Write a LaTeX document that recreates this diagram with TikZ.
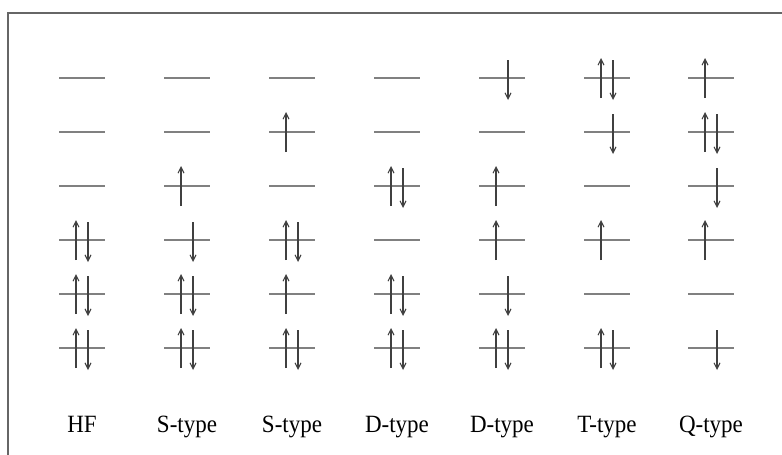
\documentclass[tikz,border=0pt]{standalone}
\usepackage{fontspec}
\setmainfont{Liberation Serif}
\usetikzlibrary{arrows.meta}
\begin{document}
\begin{tikzpicture}[x=1pt,y=-1pt,
  level/.style={draw=black!50,line width=1.6pt},
  spin/.style={draw=black!75,line width=1.1pt,-{Straight Barb[length=6pt,width=6pt]}},
  lbl/.style={font=\fontsize{23}{26}\selectfont,anchor=base,inner sep=0pt,yscale=1.08},
  frame/.style={draw=black!60,line width=1.6pt}]
\useasboundingbox (0,0) rectangle (782,455);
\draw[frame] (8,455) -- (8,13) -- (782,13);
\foreach \x/\cfg/\name/\txt in {
  82/{0,0,0,3,3,3}/hf/HF,
  187/{0,0,1,2,3,3}/sa/S-type,
  292/{0,1,0,3,1,3}/sb/S-type,
  397/{0,0,3,0,3,3}/da/D-type,
  502/{2,0,1,1,2,3}/db/D-type,
  607/{3,2,0,1,0,3}/t/T-type,
  711/{1,3,2,1,0,2}/q/Q-type}{
  \node[lbl] (\name) at (\x,432) {\txt};
  \foreach \t [count=\r] in \cfg {
    \pgfmathsetmacro\y{78+54*(\r-1)}
    \draw[level] (\x-23,\y) -- (\x+23,\y);
    \ifodd\t
      \draw[spin] (\x-6,\y+20) -- (\x-6,\y-20);
    \fi
    \ifnum\t>1
      \draw[spin] (\x+6,\y-18) -- (\x+6,\y+22);
    \fi
  }
}
\end{tikzpicture}
\end{document}
